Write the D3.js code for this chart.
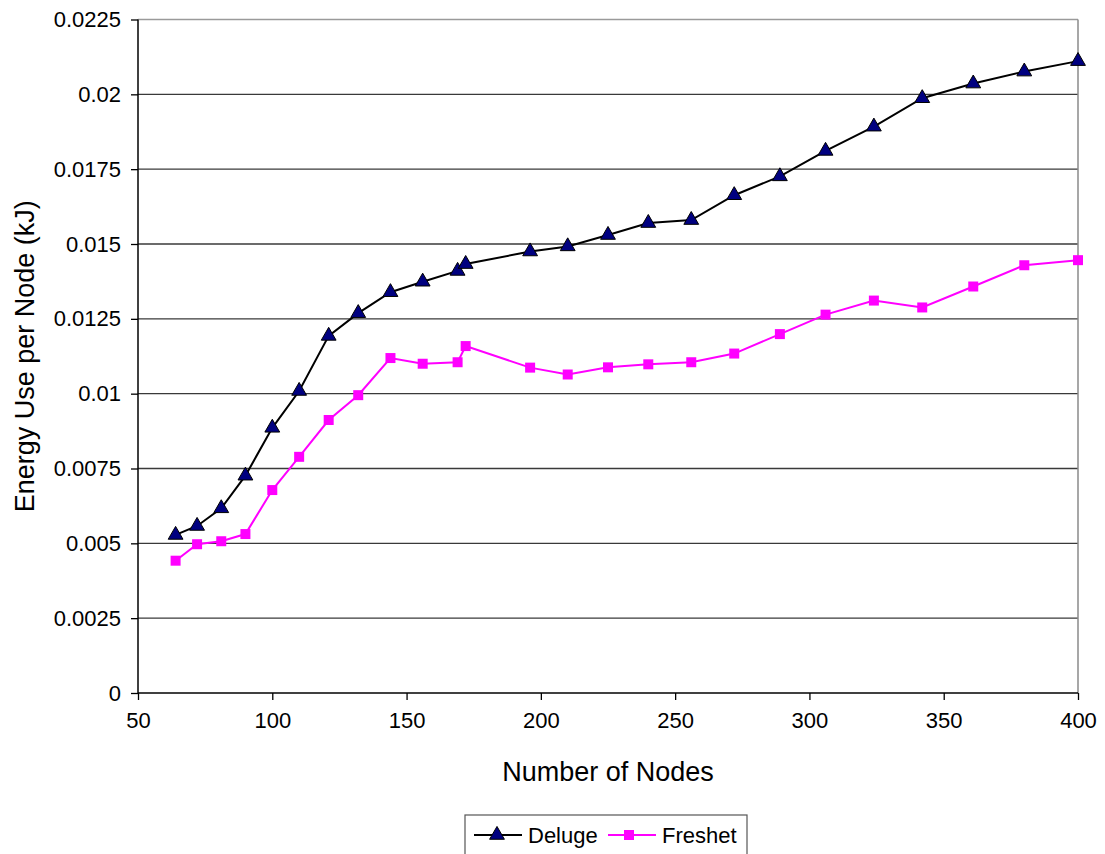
<!DOCTYPE html>
<html>
<head>
<meta charset="utf-8">
<script src="https://cdn.jsdelivr.net/npm/d3@7"></script>
<style>
  body { margin: 0; background: #fff; }
  svg { font-family: "Liberation Sans", Arial, sans-serif; }
  .gridline { stroke: #3a3a3a; stroke-width: 1.3; }
  .tick-label { font-size: 22px; fill: #000; }
  .axis-title { font-size: 27px; fill: #000; }
  .legend-label { font-size: 22px; fill: #000; }
</style>
</head>
<body>
<div id="plot"></div>
<script>
const CANVAS_WIDTH   = 1105;
const CANVAS_HEIGHT  =  854;

const PLOT_LEFT      =  138;
const PLOT_RIGHT     = 1078;
const PLOT_TOP       =   19.5;
const PLOT_BOTTOM    =  693;

const TICK_LENGTH    =    7;

// data
const NODES = [64, 72, 81, 90, 100, 110, 121, 132, 144, 156, 169, 172,
               196, 210, 225, 240, 256, 272, 289, 306, 324, 342, 361, 380, 400];
const DELUGE = [0.00528, 0.00558, 0.00617, 0.00726, 0.00886, 0.01009, 0.01193, 0.01269,
                0.01339, 0.01374, 0.01410, 0.01433, 0.01475, 0.01492, 0.01530, 0.01570,
                0.01580, 0.01663, 0.01726, 0.01811, 0.01892, 0.01987, 0.02036, 0.02076, 0.02111];
const FRESHET = [0.00442, 0.00497, 0.00507, 0.00531, 0.00678, 0.00789, 0.00912, 0.00995,
                 0.01119, 0.01100, 0.01105, 0.01159, 0.01087, 0.01064, 0.01088, 0.01098,
                 0.01105, 0.01134, 0.01199, 0.01264, 0.01311, 0.01288, 0.01358, 0.01429, 0.01446];

const X_TICKS = [50, 100, 150, 200, 250, 300, 350, 400];
const Y_TICKS = [0, 0.0025, 0.005, 0.0075, 0.01, 0.0125, 0.015, 0.0175, 0.02, 0.0225];
const Y_TICK_LABELS = ["0", "0.0025", "0.005", "0.0075", "0.01", "0.0125", "0.015", "0.0175", "0.02", "0.0225"];

const SERIES = [
    {name: "Deluge",  values: DELUGE,  line: "#000000", fill: "#000080", stroke: "#000000", symbol: d3.symbolTriangle, size: 95},
    {name: "Freshet", values: FRESHET, line: "#ff00ff", fill: "#ff00ff", stroke: "none",    symbol: d3.symbolSquare,   size: 100}
];

var svg = d3.select("#plot")
            .append("svg")
            .attr("width", CANVAS_WIDTH)
            .attr("height", CANVAS_HEIGHT);

var xScale = d3.scaleLinear()
               .domain([50, 400])
               .range([PLOT_LEFT, PLOT_RIGHT]);
var yScale = d3.scaleLinear()
               .domain([0, 0.0225])
               .range([PLOT_BOTTOM, PLOT_TOP]);

// gridlines
Y_TICKS.forEach(function(t, i) {
    if (t === 0) return;
    svg.append("line")
       .attr("class", "gridline")
       .attr("x1", PLOT_LEFT).attr("x2", PLOT_RIGHT)
       .attr("y1", yScale(t)).attr("y2", yScale(t))
       .style("stroke", t === 0.0225 ? "#9a9a9a" : null);
});

// right border
svg.append("line")
   .attr("x1", PLOT_RIGHT).attr("x2", PLOT_RIGHT)
   .attr("y1", PLOT_TOP).attr("y2", PLOT_BOTTOM)
   .attr("stroke", "#8a8a8a").attr("stroke-width", 1.5);

// y axis
var yAxis = d3.axisLeft(yScale)
              .tickValues(Y_TICKS)
              .tickSize(TICK_LENGTH)
              .tickPadding(10)
              .tickFormat((d, i) => Y_TICK_LABELS[i]);
var gy = svg.append("g")
            .attr("transform", "translate(" + PLOT_LEFT + ",0)")
            .call(yAxis);
gy.select(".domain").attr("stroke", "#000").attr("stroke-width", 1.5)
  .attr("d", "M0," + PLOT_TOP + "V" + PLOT_BOTTOM);
gy.selectAll(".tick line").attr("stroke", "#000").attr("stroke-width", 1.3);
gy.selectAll(".tick text").attr("class", "tick-label").attr("font-family", null).attr("font-size", null);

// x axis
var xAxis = d3.axisBottom(xScale)
              .tickValues(X_TICKS)
              .tickSize(TICK_LENGTH)
              .tickPadding(12)
              .tickFormat(d3.format("d"));
var gx = svg.append("g")
            .attr("transform", "translate(0," + PLOT_BOTTOM + ")")
            .call(xAxis);
gx.select(".domain").attr("stroke", "#000").attr("stroke-width", 1.5)
  .attr("d", "M" + PLOT_LEFT + ",0H" + PLOT_RIGHT);
gx.selectAll(".tick line").attr("stroke", "#000").attr("stroke-width", 1.3);
gx.selectAll(".tick text").attr("class", "tick-label").attr("font-family", null).attr("font-size", null);

// axis titles
svg.append("text")
   .attr("class", "axis-title")
   .attr("text-anchor", "middle")
   .attr("x", (PLOT_LEFT + PLOT_RIGHT) / 2)
   .attr("y", 781)
   .text("Number of Nodes");

svg.append("text")
   .attr("class", "axis-title")
   .attr("text-anchor", "middle")
   .attr("transform", "translate(34," + ((PLOT_TOP + PLOT_BOTTOM) / 2) + ") rotate(-90)")
   .text("Energy Use per Node (kJ)");

// series lines and markers
var lineGenerator = d3.line()
                      .x((d, i) => xScale(NODES[i]))
                      .y(d => yScale(d));

SERIES.forEach(function(s) {
    svg.append("path")
       .attr("d", lineGenerator(s.values))
       .attr("fill", "none")
       .attr("stroke", s.line)
       .attr("stroke-width", 2);
});

SERIES.forEach(function(s) {
    svg.selectAll(null)
       .data(s.values)
       .enter()
       .append("path")
       .attr("d", d3.symbol().type(s.symbol).size(s.size))
       .attr("transform", (d, i) => "translate(" + xScale(NODES[i]) + "," + yScale(d) + ")")
       .attr("fill", s.fill)
       .attr("stroke", s.stroke)
       .attr("stroke-width", 1);
});

// legend
var legend = svg.append("g").attr("transform", "translate(465,815)");
legend.append("rect")
      .attr("x", 0).attr("y", 0)
      .attr("width", 282).attr("height", 42)
      .attr("fill", "#fff")
      .attr("stroke", "#555").attr("stroke-width", 1.2);

var legendOffsets = [9, 143];
SERIES.forEach(function(s, i) {
    var g = legend.append("g").attr("transform", "translate(" + legendOffsets[i] + ",20)");
    g.append("line")
     .attr("x1", 0).attr("x2", 48)
     .attr("y1", 0).attr("y2", 0)
     .attr("stroke", s.line).attr("stroke-width", 2);
    g.append("path")
     .attr("d", d3.symbol().type(s.symbol).size(s.size))
     .attr("transform", "translate(" + (i === 0 ? 23 : 21) + ",0)")
     .attr("fill", s.fill)
     .attr("stroke", s.stroke)
     .attr("stroke-width", 1);
    g.append("text")
     .attr("class", "legend-label")
     .attr("x", 54)
     .attr("y", 8)
     .text(s.name);
});
</script>
</body>
</html>
